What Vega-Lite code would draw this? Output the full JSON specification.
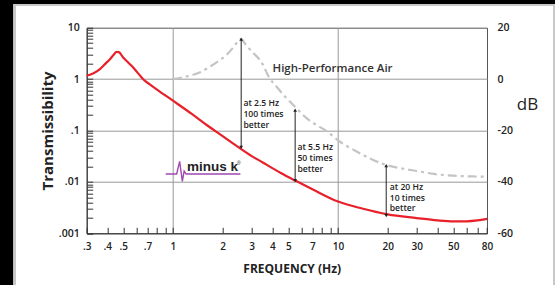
{
  "$schema": "https://vega.github.io/schema/vega-lite/v6.json",
  "width": 400.3,
  "height": 205.6,
  "autosize": {"type": "none"},
  "padding": {"left": 86.7, "top": 27.7, "right": 68, "bottom": 51.7},
  "background": "white",
  "config": {"view": {"stroke": "#555", "strokeWidth": 1}, "font": "Open Sans"},
  "datasets": {
    "red": [
      {"f": 0.3, "T": 1.16}, {"f": 0.33, "T": 1.3}, {"f": 0.361, "T": 1.56}, {"f": 0.39, "T": 2.0},
      {"f": 0.415, "T": 2.44}, {"f": 0.44, "T": 3.05}, {"f": 0.455, "T": 3.4}, {"f": 0.47, "T": 3.35},
      {"f": 0.499, "T": 2.63}, {"f": 0.535, "T": 2.1}, {"f": 0.574, "T": 1.68}, {"f": 0.6, "T": 1.42},
      {"f": 0.63, "T": 1.18}, {"f": 0.66, "T": 0.99}, {"f": 0.72, "T": 0.8}, {"f": 0.8, "T": 0.625}, {"f": 1.0, "T": 0.38}, {"f": 1.3, "T": 0.21},
      {"f": 1.6, "T": 0.128}, {"f": 2.0, "T": 0.078}, {"f": 2.5, "T": 0.047}, {"f": 3.0, "T": 0.0318},
      {"f": 3.5, "T": 0.0239}, {"f": 4.0, "T": 0.0185}, {"f": 4.5, "T": 0.0149}, {"f": 5.5, "T": 0.0106},
      {"f": 7, "T": 0.00718}, {"f": 10, "T": 0.00414}, {"f": 14, "T": 0.00303}, {"f": 20, "T": 0.00234},
      {"f": 30, "T": 0.00198}, {"f": 40, "T": 0.00178}, {"f": 50, "T": 0.0017}, {"f": 60, "T": 0.00171},
      {"f": 70, "T": 0.00178}, {"f": 80, "T": 0.00191}
    ],
    "grey": [
      {"f": 1.0, "T": 1.0}, {"f": 1.2, "T": 1.12}, {"f": 1.45, "T": 1.34}, {"f": 1.7, "T": 1.8},
      {"f": 1.9, "T": 2.27}, {"f": 2.1, "T": 2.9}, {"f": 2.3, "T": 4.0}, {"f": 2.45, "T": 5.2},
      {"f": 2.59, "T": 6.0}, {"f": 2.75, "T": 4.76}, {"f": 2.93, "T": 3.76}, {"f": 3.49, "T": 1.96},
      {"f": 3.83, "T": 1.07}, {"f": 4.2, "T": 0.74}, {"f": 4.8, "T": 0.45}, {"f": 5.55, "T": 0.28},
      {"f": 6.5, "T": 0.17}, {"f": 7.5, "T": 0.125}, {"f": 8.4, "T": 0.1}, {"f": 10.4, "T": 0.059},
      {"f": 12.8, "T": 0.04}, {"f": 15.5, "T": 0.029}, {"f": 19, "T": 0.022}, {"f": 25, "T": 0.018},
      {"f": 30, "T": 0.0163}, {"f": 38, "T": 0.0143}, {"f": 50, "T": 0.0132}, {"f": 65, "T": 0.0128},
      {"f": 80, "T": 0.0126}
    ],
    "arrows": [
      {"f": 2.59, "lo": 0.047, "hi": 6.0},
      {"f": 5.5, "lo": 0.0106, "hi": 0.25},
      {"f": 19.6, "lo": 0.0022, "hi": 0.0207}
    ],
    "notes": [
      {"f": 2.672, "T": 0.336, "text": "at 2.5 Hz"},
      {"f": 2.672, "T": 0.209, "text": "100 times"},
      {"f": 2.672, "T": 0.1296, "text": "better"},
      {"f": 5.68, "T": 0.047, "text": "at 5.5 Hz"},
      {"f": 5.68, "T": 0.02924, "text": "50 times"},
      {"f": 5.68, "T": 0.01788, "text": "better"},
      {"f": 20.6, "T": 0.00785, "text": "at 20 Hz"},
      {"f": 20.6, "T": 0.00489, "text": "10 times"},
      {"f": 20.6, "T": 0.00307, "text": "better"}
    ],
    "logo": [
      {"f": 0.9036, "T": 0.01429}, {"f": 1.0528, "T": 0.01429}, {"f": 1.0975, "T": 0.02512},
      {"f": 1.1396, "T": 0.01027}, {"f": 1.1685, "T": 0.01621}, {"f": 1.2012, "T": 0.01429},
      {"f": 2.562, "T": 0.01429}
    ]
  },
  "layer": [
    {
      "data": {"name": "grey"},
      "mark": {"type": "line", "color": "#c4c4c4", "strokeWidth": 2.2, "strokeDash": [9, 4, 3, 4], "interpolate": "monotone"},
      "encoding": {
        "x": {"field": "f", "type": "quantitative"},
        "y": {
          "field": "T", "type": "quantitative",
          "axis": {
            "orient": "right", "values": [0.001, 0.01, 0.1, 1, 10],
            "labelExpr": "datum.value == 1 ? '0' : (datum.value < 1 ? '-' + format(-20 * log(datum.value) / LN10, '.0f') : format(20 * log(datum.value) / LN10, '.0f'))",
            "domain": false, "ticks": false, "grid": false,
            "labelPadding": 10, "labelFont": "Open Sans", "labelFontWeight": 600, "labelFontSize": 10.5, "labelColor": "#222",
            "labelFlush": false, "labelOverlap": false, "labelBound": false,
            "title": "dB", "titleFont": "Open Sans", "titleAngle": 0, "titleX": 40, "titleY": 77,
            "titleAlign": "center", "titleBaseline": "middle", "titleFontSize": 17, "titleFontWeight": "normal", "titleColor": "#222"
          }
        }
      }
    },
    {
      "data": {"name": "red"},
      "mark": {"type": "line", "color": "#e8202a", "strokeWidth": 2.2, "interpolate": "monotone"},
      "encoding": {
        "x": {
          "field": "f", "type": "quantitative",
          "scale": {"type": "log", "domain": [0.3, 80], "nice": false},
          "axis": {
            "orient": "bottom",
            "values": [0.3, 0.4, 0.5, 0.6, 0.7, 0.8, 0.9, 1, 2, 3, 4, 5, 6, 7, 8, 9, 10, 20, 30, 40, 50, 60, 70, 80],
            "labelExpr": "indexof([0.3,0.4,0.5,0.7,1,2,3,4,5,7,10,20,30,50,80], datum.value) >= 0 ? (datum.value < 1 ? slice(format(datum.value, '~g'), 1) : format(datum.value, '~g')) : ''",
            "tickSize": -6, "tickColor": "#333", "domainColor": "#333",
            "grid": true, "gridColor": "#999",
            "gridOpacity": {"condition": {"test": "datum.value == 1 || datum.value == 10", "value": 1}, "value": 0},
            "labelFont": "Open Sans", "labelFontWeight": 600, "labelFontSize": 10, "labelColor": "#222",
            "labelPadding": 14, "labelFlush": false, "labelOverlap": false, "labelBound": false,
            "title": "FREQUENCY (Hz)", "titleFont": "Open Sans", "titleFontWeight": "bold", "titleFontSize": 12,
            "titleColor": "#222", "titleX": 205, "titleY": 35, "titleAlign": "center", "titleBaseline": "middle"
          }
        },
        "y": {
          "field": "T", "type": "quantitative",
          "scale": {"type": "log", "domain": [0.001, 10], "nice": false},
          "axis": {
            "orient": "left",
            "values": [0.001, 0.002, 0.003, 0.004, 0.005, 0.006, 0.007, 0.008, 0.009, 0.01, 0.02, 0.03, 0.04, 0.05, 0.06, 0.07, 0.08, 0.09, 0.1, 0.2, 0.3, 0.4, 0.5, 0.6, 0.7, 0.8, 0.9, 1, 2, 3, 4, 5, 6, 7, 8, 9, 10],
            "labelExpr": "indexof([0.001,0.01,0.1,1,10], datum.value) >= 0 ? (datum.value < 1 ? slice(format(datum.value, '~g'), 1) : format(datum.value, '~g')) : ''",
            "tickSize": -6, "tickColor": "#333", "domainColor": "#333",
            "grid": true, "gridColor": "#999",
            "gridOpacity": {"condition": {"test": "datum.value == 1 || datum.value == 0.1 || datum.value == 0.01", "value": 1}, "value": 0},
            "labelFont": "Open Sans", "labelFontWeight": 600, "labelFontSize": 10.5, "labelColor": "#222",
            "labelPadding": 13.5, "labelFlush": false, "labelOverlap": false, "labelBound": false,
            "title": "Transmissibility", "titleFont": "Open Sans", "titleFontWeight": "bold", "titleFontSize": 15,
            "titleColor": "#222", "titleX": -39, "titleY": 102.8, "titleAlign": "center", "titleBaseline": "middle", "titleAngle": -90
          }
        }
      }
    },
    {
      "data": {"name": "arrows"},
      "mark": {"type": "rule", "color": "#222", "strokeWidth": 1},
      "encoding": {
        "x": {"field": "f", "type": "quantitative"},
        "y": {"field": "lo", "type": "quantitative", "axis": null},
        "y2": {"field": "hi"}
      }
    },
    {
      "data": {"name": "arrows"},
      "mark": {"type": "point", "shape": "triangle-up", "filled": true, "color": "#222", "size": 14, "opacity": 1},
      "encoding": {
        "x": {"field": "f", "type": "quantitative"},
        "y": {"field": "hi", "type": "quantitative", "axis": null}
      }
    },
    {
      "data": {"name": "arrows"},
      "mark": {"type": "point", "shape": "triangle-down", "filled": true, "color": "#222", "size": 14, "opacity": 1},
      "encoding": {
        "x": {"field": "f", "type": "quantitative"},
        "y": {"field": "lo", "type": "quantitative", "axis": null}
      }
    },
    {
      "data": {"name": "notes"},
      "mark": {"type": "text", "align": "left", "baseline": "middle", "font": "Open Sans", "fontWeight": 600, "fontSize": 8.6, "color": "#222"},
      "encoding": {
        "x": {"field": "f", "type": "quantitative"},
        "y": {"field": "T", "type": "quantitative", "axis": null},
        "text": {"field": "text"}
      }
    },
    {
      "data": {"values": [{"f": 4.01, "T": 1.564, "text": "High-Performance Air"}]},
      "mark": {"type": "text", "align": "left", "baseline": "middle", "font": "Open Sans", "fontWeight": 600, "fontSize": 11.5, "color": "#333"},
      "encoding": {
        "x": {"field": "f", "type": "quantitative"},
        "y": {"field": "T", "type": "quantitative", "axis": null},
        "text": {"field": "text"}
      }
    },
    {
      "data": {"name": "logo"},
      "mark": {"type": "line", "color": "#a04ab0", "strokeWidth": 1.4},
      "encoding": {
        "x": {"field": "f", "type": "quantitative"},
        "y": {"field": "T", "type": "quantitative", "axis": null}
      }
    },
    {
      "data": {"values": [{"f": 1.215, "T": 0.01607, "text": "minus k"}]},
      "mark": {"type": "text", "align": "left", "baseline": "alphabetic", "font": "Liberation Sans", "fontWeight": "bold", "fontSize": 13.5, "color": "#222"},
      "encoding": {
        "x": {"field": "f", "type": "quantitative"},
        "y": {"field": "T", "type": "quantitative", "axis": null},
        "text": {"field": "text"}
      }
    },
    {
      "data": {"values": [{"f": 2.509, "T": 0.0237, "text": "®"}]},
      "mark": {"type": "text", "align": "center", "baseline": "middle", "font": "Liberation Sans", "fontSize": 5, "color": "#222"},
      "encoding": {
        "x": {"field": "f", "type": "quantitative"},
        "y": {"field": "T", "type": "quantitative", "axis": null},
        "text": {"field": "text"}
      }
    },
    {
      "data": {"name": "arrows"},
      "mark": {"type": "rect", "fill": "#c8c8c8", "clip": false},
      "encoding": {
        "x": {"datum": 0.1073, "type": "quantitative"}, "x2": {"datum": 0.1118},
        "y": {"datum": 28.9, "type": "quantitative", "axis": null}, "y2": {"datum": 0.00005}
      }
    },
    {
      "data": {"name": "arrows"},
      "mark": {"type": "rect", "fill": "#c8c8c8", "clip": false},
      "encoding": {
        "x": {"datum": 0.1073, "type": "quantitative"}, "x2": {"datum": 203.8},
        "y": {"datum": 28.9, "type": "quantitative", "axis": null}, "y2": {"datum": 26.4}
      }
    },
    {
      "data": {"name": "arrows"},
      "mark": {"type": "rect", "fill": "#c8c8c8", "clip": false},
      "encoding": {
        "x": {"datum": 201.0, "type": "quantitative"}, "x2": {"datum": 221.6},
        "y": {"datum": 28.9, "type": "quantitative", "axis": null}, "y2": {"datum": 0.00005}
      }
    },
    {
      "data": {"name": "arrows"},
      "mark": {"type": "rect", "fill": "black", "clip": false},
      "encoding": {
        "x": {"datum": 0.0834, "type": "quantitative"}, "x2": {"datum": 0.1073},
        "y": {"datum": 43.2, "type": "quantitative", "axis": null}, "y2": {"datum": 0.00005}
      }
    },
    {
      "data": {"name": "arrows"},
      "mark": {"type": "rect", "fill": "black", "clip": false},
      "encoding": {
        "x": {"datum": 0.0834, "type": "quantitative"}, "x2": {"datum": 221.6},
        "y": {"datum": 43.2, "type": "quantitative", "axis": null}, "y2": {"datum": 28.9}
      }
    }
  ],
  "resolve": {"axis": {"y": "independent"}}
}
